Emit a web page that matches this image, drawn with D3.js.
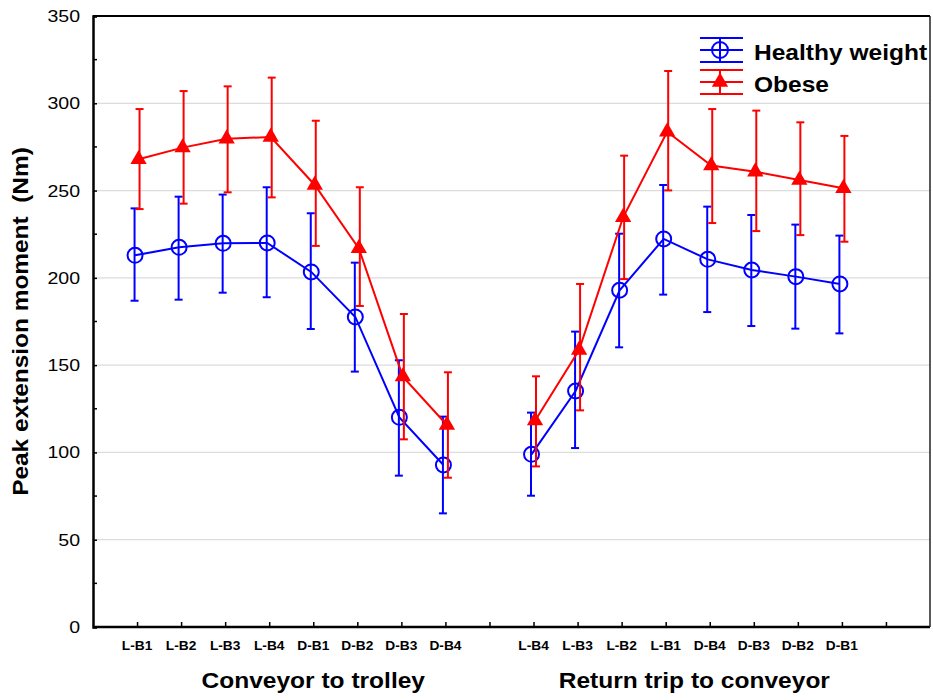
<!DOCTYPE html>
<html>
<head>
<meta charset="utf-8">
<script src="https://cdn.jsdelivr.net/npm/d3@7"></script>
<style>
  body { margin: 0; background: #fff; }
  text { font-family: "Liberation Sans", Arial, sans-serif; white-space: pre; }
</style>
</head>
<body>
<script>
var W = 933, H = 700;
var m = {left: 93, right: 3, top: 16, bottom: 73};

// category slots: 1..8 first group, 10..17 second group
var slots = [1, 2, 3, 4, 5, 6, 7, 8, 10, 11, 12, 13, 14, 15, 16, 17];
var categories = ["L-B1", "L-B2", "L-B3", "L-B4", "D-B1", "D-B2", "D-B3", "D-B4",
                  "L-B4", "L-B3", "L-B2", "L-B1", "D-B4", "D-B3", "D-B2", "D-B1"];
var groups = ["Conveyor to trolley", "Return trip to conveyor"];
var groupCenters = [5, 13.65];

var healthy = [212.9, 217.5, 219.8, 220.0, 203.4, 177.6, 120.1, 92.8,
               98.9, 135.2, 192.9, 222.3, 210.6, 204.5, 200.7, 196.5];
var healthyHi = [239.8, 246.5, 247.7, 251.9, 237.0, 208.7, 152.8, 120.5,
                 122.8, 169.2, 225.3, 253.2, 240.8, 236.0, 230.5, 224.2];
var healthyLo = [186.9, 187.5, 191.5, 188.9, 170.7, 146.3, 86.7, 65.1,
                 75.2, 102.5, 160.2, 190.4, 180.4, 172.4, 170.9, 168.2];

var obese = [267.9, 274.6, 279.7, 280.7, 253.2, 216.9, 143.4, 115.7,
             118.2, 158.7, 234.7, 283.7, 264.3, 260.8, 256.0, 251.3];
var obeseHi = [296.7, 307.0, 309.7, 314.7, 290.0, 251.9, 179.3, 145.9,
               143.6, 196.5, 270.0, 318.5, 296.7, 295.8, 289.1, 281.3];
var obeseLo = [239.4, 242.5, 249.0, 246.1, 218.3, 183.9, 107.5, 85.5,
               92.0, 124.1, 199.3, 250.1, 231.4, 226.8, 224.5, 220.7];

var yTicks = [0, 50, 100, 150, 200, 250, 300, 350];
var yMinor = [25, 75, 125, 175, 225, 275, 325];

var svg = d3.select("body").append("svg")
  .attr("width", W).attr("height", H);

var x = d3.scaleLinear().domain([0, 19]).range([m.left, W - m.right]);
var y = d3.scaleLinear().domain([0, 350]).range([H - m.bottom, m.top]);

// text that is a bit wider than the font (the original looks stretched)
function label(g, px, py, str, size, anchor, sx, bold, rot) {
  var t = "translate(" + px + "," + py + ")" + (rot ? " rotate(" + rot + ")" : "") +
          " scale(" + sx + ",1)";
  return g.append("text")
    .attr("transform", t)
    .attr("text-anchor", anchor)
    .attr("font-size", size)
    .attr("font-weight", bold ? "bold" : "normal")
    .attr("fill", "#000")
    .text(str);
}

// gridlines
svg.append("g").selectAll("line")
  .data(yTicks.filter(function(d) { return d > 0 && d < 350; }))
  .enter().append("line")
  .attr("x1", x(0)).attr("x2", x(19))
  .attr("y1", function(d) { return y(d); })
  .attr("y2", function(d) { return y(d); })
  .attr("stroke", "#dcdcdc").attr("stroke-width", 1.2);

// y axis
var yAxis = d3.axisLeft(y).tickValues(yTicks).tickSize(-4).tickFormat("");
var ga = svg.append("g").attr("transform", "translate(" + x(0) + ",0)").call(yAxis);
ga.select(".domain").attr("stroke", "#000").attr("stroke-width", 2.5);
ga.selectAll(".tick line").attr("stroke", "#000").attr("stroke-width", 1.5);
svg.append("g").selectAll("line").data(yMinor).enter().append("line")
  .attr("x1", x(0)).attr("x2", x(0) + 4)
  .attr("y1", function(d) { return y(d); })
  .attr("y2", function(d) { return y(d); })
  .attr("stroke", "#000").attr("stroke-width", 1.5);
var gyl = svg.append("g");
yTicks.forEach(function(v) {
  label(gyl, 80, y(v) + 6, String(v), 17, "end", 1.15, false);
});

// x axis
var xAxis = d3.axisBottom(x).tickValues(d3.range(1, 19)).tickSize(-5).tickFormat("");
var gx = svg.append("g").attr("transform", "translate(0," + y(0) + ")").call(xAxis);
gx.select(".domain").remove();
gx.selectAll(".tick line").attr("stroke", "#000").attr("stroke-width", 1.5);
svg.append("line").attr("x1", x(0)).attr("x2", x(19))
  .attr("y1", y(0)).attr("y2", y(0)).attr("stroke", "#000").attr("stroke-width", 2.5);

// frame top/right
svg.append("line").attr("x1", x(0)).attr("x2", x(19))
  .attr("y1", y(350)).attr("y2", y(350)).attr("stroke", "#000").attr("stroke-width", 2);
svg.append("line").attr("x1", x(19)).attr("x2", x(19))
  .attr("y1", y(350)).attr("y2", y(0)).attr("stroke", "#222").attr("stroke-width", 1.5);

// category labels
var gc = svg.append("g");
categories.forEach(function(c, i) {
  label(gc, x(slots[i]), 650, c, 12.5, "middle", 1.1, true);
});
groups.forEach(function(g, i) {
  label(svg, x(groupCenters[i]), 688, g, 22.3, "middle", 1.1, true);
});

label(svg, 28, y(175), "Peak extension moment  (Nm)", 22, "middle", 1.11, true, -90);

// series
function drawSeries(vals, hi, lo, color, dx, edx, marker) {
  var g = svg.append("g");
  [0, 1].forEach(function(k) {
    var idx = d3.range(k * 8, k * 8 + 8);
    g.append("path")
      .datum(idx)
      .attr("fill", "none").attr("stroke", color).attr("stroke-width", 2)
      .attr("d", d3.line()
        .x(function(i) { return x(slots[i]) + dx; })
        .y(function(i) { return y(vals[i]); }));
  });
  var e = g.selectAll("g.err").data(slots).enter().append("g");
  e.append("line")
    .attr("x1", function(d) { return x(d) + edx; })
    .attr("x2", function(d) { return x(d) + edx; })
    .attr("y1", function(d, i) { return y(hi[i]); })
    .attr("y2", function(d, i) { return y(lo[i]); })
    .attr("stroke", color).attr("stroke-width", 2);
  [hi, lo].forEach(function(arr) {
    e.append("line")
      .attr("x1", function(d) { return x(d) + edx - 4; })
      .attr("x2", function(d) { return x(d) + edx + 4; })
      .attr("y1", function(d, i) { return y(arr[i]); })
      .attr("y2", function(d, i) { return y(arr[i]); })
      .attr("stroke", color).attr("stroke-width", 2);
  });
  if (marker === "circle") {
    g.selectAll("circle").data(slots).enter().append("circle")
      .attr("cx", function(d) { return x(d) + dx; })
      .attr("cy", function(d, i) { return y(vals[i]); })
      .attr("r", 7.5)
      .attr("fill", "none").attr("stroke", color).attr("stroke-width", 2);
  } else {
    var tri = d3.symbol().type(d3.symbolTriangle).size(115);
    g.selectAll("path.tri").data(slots).enter().append("path")
      .attr("transform", function(d, i) {
        return "translate(" + (x(d) + dx) + "," + y(vals[i]) + ")";
      })
      .attr("d", tri).attr("fill", color);
  }
}

drawSeries(healthy, healthyHi, healthyLo, "#0000ff", -2, -2.5, "circle");
drawSeries(obese, obeseHi, obeseLo, "#ff0000", 1.5, 2.5, "triangle");

// legend
var lg = svg.append("g").attr("transform", "translate(700,0)");
var items = [
  {name: "Healthy weight", color: "#0000ff", cy: 50, marker: "circle"},
  {name: "Obese", color: "#ff0000", cy: 82, marker: "triangle"}
];
items.forEach(function(it) {
  [-12, 0, 12].forEach(function(o) {
    lg.append("line").attr("x1", 0).attr("x2", 43)
      .attr("y1", it.cy + o).attr("y2", it.cy + o)
      .attr("stroke", it.color).attr("stroke-width", 2);
  });
  lg.append("line").attr("x1", 20).attr("x2", 20)
    .attr("y1", it.cy - 12).attr("y2", it.cy + 12)
    .attr("stroke", it.color).attr("stroke-width", 2);
  if (it.marker === "circle") {
    lg.append("circle").attr("cx", 20).attr("cy", it.cy).attr("r", 8)
      .attr("fill", "#fff").attr("stroke", it.color).attr("stroke-width", 2);
    lg.append("line").attr("x1", 12).attr("x2", 28)
      .attr("y1", it.cy).attr("y2", it.cy).attr("stroke", it.color).attr("stroke-width", 2);
    lg.append("line").attr("x1", 20).attr("x2", 20)
      .attr("y1", it.cy - 8).attr("y2", it.cy + 8).attr("stroke", it.color).attr("stroke-width", 2);
  } else {
    lg.append("path").attr("transform", "translate(20," + it.cy + ")")
      .attr("d", d3.symbol().type(d3.symbolTriangle).size(115)).attr("fill", it.color);
  }
  label(lg, 54, it.cy + 9.5, it.name, 22.3, "start", 1.1, true);
});
</script>
</body>
</html>
